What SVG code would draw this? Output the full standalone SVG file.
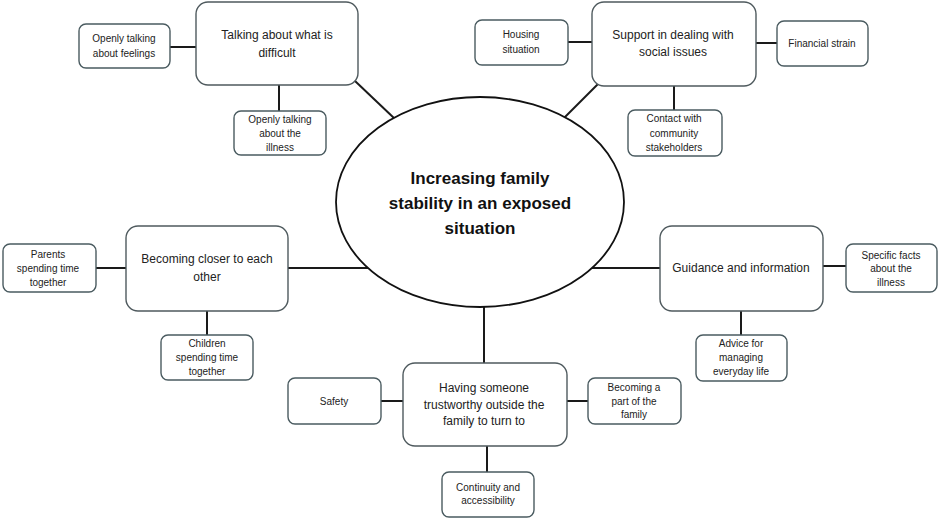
<svg xmlns="http://www.w3.org/2000/svg" width="942" height="522" viewBox="0 0 942 522">
<style>
.bg{fill:#ffffff}
.main{fill:#ffffff;stroke:#4f5a5e;stroke-width:1.4}
.sub{fill:#ffffff;stroke:#4a5b60;stroke-width:1.4}
.core{fill:#ffffff;stroke:#111111;stroke-width:1.8}
.c{stroke:#1a1a1a;stroke-width:2;fill:none}
text{font-family:"Liberation Sans",Arial,sans-serif;fill:#222222;text-anchor:middle}
.t12{font-size:12px}
.t10{font-size:10px}
.t17{font-size:17px;font-weight:bold;fill:#111111}
</style>
<rect class="bg" x="0" y="0" width="942" height="522"/>
<g id="connectors">
<line class="c" x1="170" y1="47" x2="196" y2="47"/>
<line class="c" x1="279" y1="85" x2="279" y2="111"/>
<line class="c" x1="355" y1="81" x2="395" y2="119"/>
<line class="c" x1="568" y1="42" x2="592" y2="42"/>
<line class="c" x1="756" y1="43" x2="777" y2="43"/>
<line class="c" x1="674" y1="86" x2="674" y2="110"/>
<line class="c" x1="598" y1="84" x2="563" y2="119"/>
<line class="c" x1="96" y1="268" x2="126" y2="268"/>
<line class="c" x1="207" y1="311" x2="207" y2="335"/>
<line class="c" x1="288" y1="268" x2="368" y2="268"/>
<line class="c" x1="591" y1="268" x2="660" y2="268"/>
<line class="c" x1="823" y1="266" x2="846" y2="266"/>
<line class="c" x1="741" y1="311" x2="741" y2="335"/>
<line class="c" x1="484" y1="307" x2="484" y2="363"/>
<line class="c" x1="381" y1="401" x2="403" y2="401"/>
<line class="c" x1="567" y1="401" x2="588" y2="401"/>
<line class="c" x1="487" y1="446" x2="487" y2="472"/>
</g>
<g id="center">
<ellipse class="core" cx="480" cy="202" rx="144" ry="105"/>
<text class="t17" x="480" y="184">Increasing family</text>
<text class="t17" x="480" y="209">stability in an exposed</text>
<text class="t17" x="480" y="234">situation</text>
</g>
<g id="talking">
<rect class="main" x="196" y="2" width="162" height="83" rx="12"/>
<text class="t12" x="277" y="39">Talking about what is</text>
<text class="t12" x="277" y="57">difficult</text>
</g>
<g id="feelings">
<rect class="sub" x="79" y="24" width="91" height="44" rx="7"/>
<text class="t10" x="124" y="42">Openly talking</text>
<text class="t10" x="124" y="57">about feelings</text>
</g>
<g id="illness-talk">
<rect class="sub" x="234" y="111" width="92" height="44" rx="7"/>
<text class="t10" x="280" y="123">Openly talking</text>
<text class="t10" x="280" y="137">about the</text>
<text class="t10" x="280" y="151">illness</text>
</g>
<g id="support">
<rect class="main" x="592" y="2" width="164" height="84" rx="12"/>
<text class="t12" x="673" y="39">Support in dealing with</text>
<text class="t12" x="673" y="56">social issues</text>
</g>
<g id="housing">
<rect class="sub" x="475" y="20" width="93" height="45" rx="7"/>
<text class="t10" x="521" y="38">Housing</text>
<text class="t10" x="521" y="53">situation</text>
</g>
<g id="financial">
<rect class="sub" x="777" y="21" width="91" height="45" rx="7"/>
<text class="t10" x="822" y="47">Financial strain</text>
</g>
<g id="contact">
<rect class="sub" x="628" y="110" width="94" height="46" rx="7"/>
<text class="t10" x="674" y="122">Contact with</text>
<text class="t10" x="674" y="137">community</text>
<text class="t10" x="674" y="151">stakeholders</text>
</g>
<g id="closer">
<rect class="main" x="126" y="226" width="162" height="85" rx="12"/>
<text class="t12" x="207" y="263">Becoming closer to each</text>
<text class="t12" x="207" y="281">other</text>
</g>
<g id="parents">
<rect class="sub" x="3" y="244" width="93" height="48" rx="7"/>
<text class="t10" x="48" y="258">Parents</text>
<text class="t10" x="48" y="272">spending time</text>
<text class="t10" x="48" y="286">together</text>
</g>
<g id="children">
<rect class="sub" x="161" y="335" width="92" height="45" rx="7"/>
<text class="t10" x="207" y="347">Children</text>
<text class="t10" x="207" y="361">spending time</text>
<text class="t10" x="207" y="375">together</text>
</g>
<g id="guidance">
<rect class="main" x="660" y="226" width="163" height="85" rx="12"/>
<text class="t12" x="741" y="272">Guidance and information</text>
</g>
<g id="facts">
<rect class="sub" x="846" y="244" width="91" height="48" rx="7"/>
<text class="t10" x="891" y="259">Specific facts</text>
<text class="t10" x="891" y="272">about the</text>
<text class="t10" x="891" y="286">illness</text>
</g>
<g id="advice">
<rect class="sub" x="696" y="335" width="91" height="46" rx="7"/>
<text class="t10" x="741" y="347">Advice for</text>
<text class="t10" x="741" y="361">managing</text>
<text class="t10" x="741" y="375">everyday life</text>
</g>
<g id="trustworthy">
<rect class="main" x="403" y="363" width="164" height="83" rx="12"/>
<text class="t12" x="484" y="392">Having someone</text>
<text class="t12" x="484" y="409">trustworthy outside the</text>
<text class="t12" x="484" y="425">family to turn to</text>
</g>
<g id="safety">
<rect class="sub" x="288" y="378" width="93" height="46" rx="7"/>
<text class="t10" x="334" y="405">Safety</text>
</g>
<g id="part">
<rect class="sub" x="588" y="378" width="93" height="46" rx="7"/>
<text class="t10" x="634" y="391">Becoming a</text>
<text class="t10" x="634" y="405">part of the</text>
<text class="t10" x="634" y="418">family</text>
</g>
<g id="continuity">
<rect class="sub" x="442" y="472" width="92" height="45" rx="7"/>
<text class="t10" x="488" y="491">Continuity and</text>
<text class="t10" x="488" y="504">accessibility</text>
</g>
</svg>
